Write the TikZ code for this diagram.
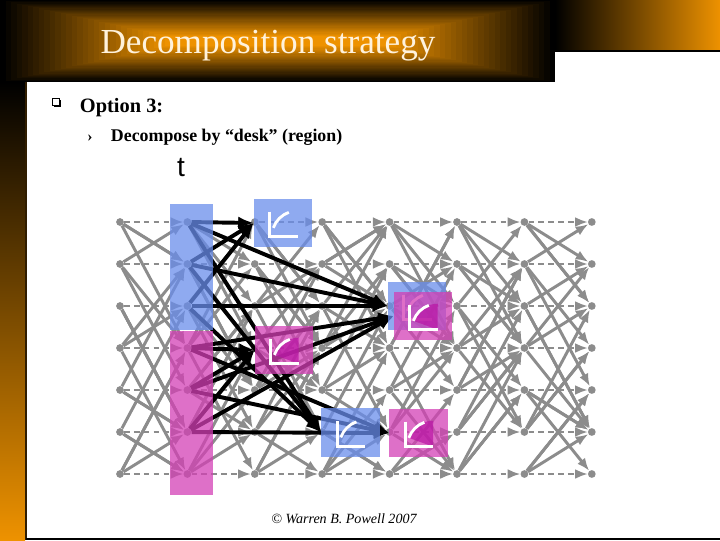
\documentclass[tikz,border=0pt]{standalone}
\usepackage{fontspec}
\setmainfont{Liberation Serif}
\newfontfamily\arialfont{Liberation Sans}
\usetikzlibrary{arrows.meta}
\definecolor{bannerorange}{RGB}{238,146,0}
\definecolor{netgray}{RGB}{140,140,140}
\definecolor{regionblue}{RGB}{105,141,235}
\definecolor{regionpink}{RGB}{211,64,181}
\definecolor{deskmagenta}{RGB}{185,20,165}
\definecolor{titlecream}{RGB}{255,242,220}
\tikzset{
  desk/.style={inner sep=0pt, minimum width=1.45cm, minimum height=1.2cm},
  wait/.style={line width=1.4pt, dash pattern=on 4pt off 3pt},
  blueshade/.style={fill=regionblue, fill opacity=0.75},
  pinkshade/.style={fill=regionpink, fill opacity=0.75},
  deskline/.style={draw=white, line width=2pt}
}
% white desk glyph inside a desk box
\newcommand\deskicon[1]{%
  \begin{scope}[shift={(#1.north west)}]
    \draw[deskline] (16,13) -- (16,38) -- (44,38);
    \draw[deskline] (19.6,29.1) arc[start angle=200, end angle=250, radius=26];
  \end{scope}}
\newcommand\deskfill[1]{%
  \begin{scope}[shift={(#1.north west)}]
    \fill[deskmagenta, fill opacity=0.7] (44,38) -- (19.6,29.1) arc[start angle=200, end angle=270, radius=26] -- cycle;
  \end{scope}}
\begin{document}
\begin{tikzpicture}[x=0.025cm, y=-0.025cm]
  \useasboundingbox (0,0) rectangle (720,540);
  % slide frame
  \foreach \k in {0,...,30} {
    \pgfmathsetmacro\mix{\k*100/30}
    \fill[bannerorange!\mix!black] (\k*5.5,\k*1.2) rectangle (555-\k*5.5,82-\k*1.2);
  }
  \shade[left color=black, right color=bannerorange] (555,0) rectangle (720,50);
  \draw[line width=1.2pt] (555,51) -- (720,51);
  \shade[top color=black, bottom color=bannerorange] (0,82) rectangle (25,540);
  \draw[line width=1.4pt, black!80!bannerorange] (26,82) -- (26,540);
  \draw[line width=1pt] (26,539) -- (720,539);
  % texts
  \node[text=titlecream, font=\fontsize{25}{30}\selectfont] (title) at (268,46) {Decomposition strategy};
  \fill (53.5,99.5) rectangle (61,107);
  \filldraw[fill=white, draw=black, line width=0.6pt] (52,98) rectangle (59,105);
  \node[anchor=west, font=\bfseries\fontsize{14.5}{17}\selectfont] (option) at (75,108) {Option 3:};
  \node[font=\bfseries\fontsize{11}{13}\selectfont] (submark) at (90,138) {›};
  \node[anchor=west, font=\bfseries\fontsize{12.7}{15}\selectfont] (decompose) at (106,137) {Decompose by “desk” (region)};
  \node[font=\arialfont\fontsize{20}{24}\selectfont] (time) at (181,168) {t};
  \node[font=\itshape\fontsize{10}{12}\selectfont] (credit) at (344,519) {© Warren B. Powell 2007};
  % states
  \begin{scope}[every node/.style={fill=netgray, circle, inner sep=0pt, minimum size=5.5pt}]
    \foreach \i in {1,...,8}
      \foreach \j in {1,...,7}
        \node (n-\i-\j) at ({120+(\i-1)*67.4},{222+(\j-1)*42}) {};
  \end{scope}
  % regions and desks
  \node[inner sep=0pt, minimum width=1.075cm, minimum height=3.15cm] (blueregion) at (191.5,267) {};
  \node[inner sep=0pt, minimum width=1.075cm, minimum height=4.1cm] (pinkregion) at (191.5,413) {};
  \node[desk] (dA) at (283,223) {};
  \node[desk] (dB) at (417,306) {};
  \node[desk] (dD) at (350.5,432.5) {};
  \node[desk] (dC) at (284,350) {};
  \node[desk] (dE) at (423,316) {};
  \node[desk] (dF) at (418.5,433) {};
  % network
  \begin{scope}[every edge/.style={draw=netgray, line width=2.1pt, ->, >={Latex[length=9pt,width=7pt]}}]
    \pgfmathsetseed{23}
    \foreach \i in {1,...,7} {
      \pgfmathtruncatemacro\n{\i+1}
      \foreach \j in {1,...,7} {
        \path (n-\i-\j) edge[wait] (n-\n-\j);
        \foreach \k in {1,2,3} {
          \pgfmathrandominteger{\d}{1}{3}
          \pgfmathrandominteger{\s}{0}{1}
          \pgfmathtruncatemacro\t{\j+(2*\s-1)*\d}
          \pgfmathtruncatemacro\t{(\t<1 || \t>7) ? \j-(2*\s-1)*\d : \t}
          \path (n-\i-\j) edge (n-\n-\t);
        }
      }
    }
  \end{scope}
  \begin{scope}[every edge/.style={draw=black, line width=2.8pt, ->, >={Latex[length=11pt,width=9pt]}}]
    \foreach \j in {1,2,3}
      \foreach \d in {dA,dB,dD}
        \path (n-2-\j) edge (\d.west);
    \foreach \j in {4,5,6}
      \foreach \d in {dC,dE,dF}
        \path (n-2-\j) edge (\d.west);
  \end{scope}
  % shading on top
  \foreach \r in {blueregion,dA,dB,dD}
    \fill[blueshade] (\r.north west) rectangle (\r.south east);
  \foreach \r in {dA,dB,dD}
    \deskicon{\r};
  \foreach \r in {pinkregion,dC,dE,dF}
    \fill[pinkshade] (\r.north west) rectangle (\r.south east);
  \foreach \r in {dC,dE,dF}
    \deskfill{\r};
  \foreach \r in {dC,dE,dF}
    \deskicon{\r};
\end{tikzpicture}
\end{document}
